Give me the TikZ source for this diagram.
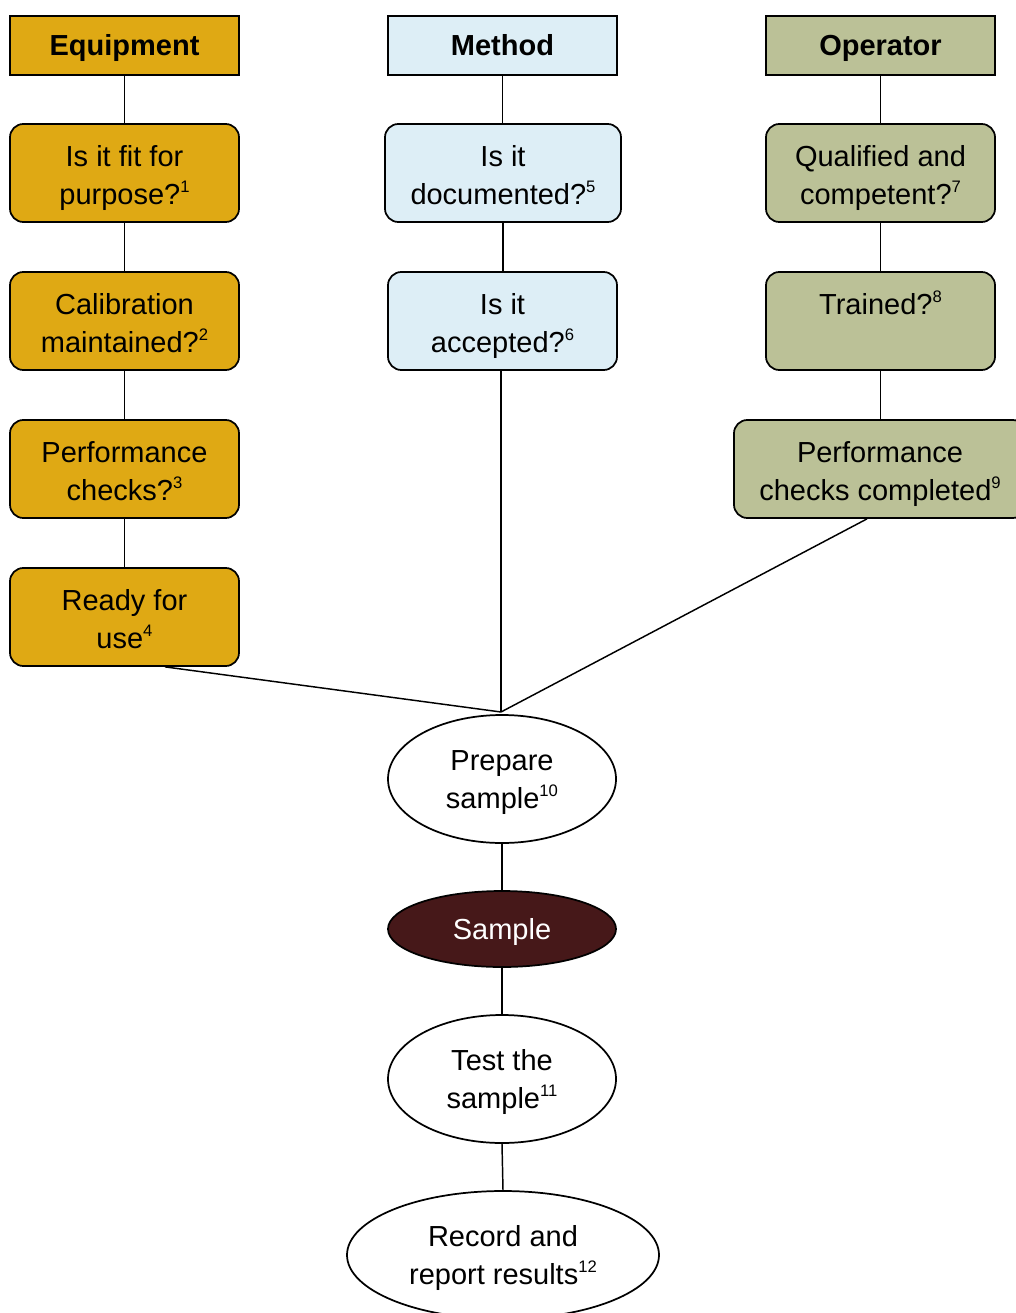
\documentclass[tikz,border=0pt]{standalone}
\usepackage{fontspec}
\setmainfont{Liberation Sans}
\usetikzlibrary{shapes.geometric,calc}
\definecolor{eqc}{HTML}{DFA914}
\definecolor{mec}{HTML}{DDEEF6}
\definecolor{opc}{HTML}{BBC197}
\definecolor{smc}{HTML}{461819}
\newcommand\lnA{\rule[-4.6pt]{0pt}{24.25pt}}
\newcommand\lnB{\rule[-4.6pt]{0pt}{28pt}}
\newcommand\supx[1]{\raisebox{9pt}{\fontsize{12.5}{12.5}\selectfont #1}}
\begin{document}
\begin{tikzpicture}[x=0.75pt,y=-0.75pt,
  txt/.style={font=\fontsize{21.75}{28.5}\selectfont, align=center, inner sep=0pt},
  hdr/.style={txt, draw, line width=1.3pt, minimum width=171.75pt, minimum height=44.25pt, font=\fontsize{21.75}{28.5}\selectfont\bfseries},
  rbox/.style={txt, draw, line width=1.3pt, rounded corners=10pt, minimum width=171.75pt, minimum height=73.5pt},
  oval/.style={txt, draw, ellipse, line width=1.3pt, minimum width=171pt, minimum height=96pt, fill=white},
  link/.style={line width=1.1pt}
]
\useasboundingbox (0,0) rectangle (1016,1313);
\clip (0,0) rectangle (1016,1313);
\fill[white] (0,0) rectangle (1016,1313);

% headers
\node[hdr, fill=eqc] (eqh) at (124.5,45.5) {\lnA Equipment};
\node[hdr, fill=mec] (meh) at (502.5,45.5) {\lnA Method};
\node[hdr, fill=opc] (oph) at (880.5,45.5) {\lnA Operator};

% equipment column
\node[rbox, fill=eqc] (eq1) at (124.5,173) {\lnB Is it fit for\\purpose?\supx{1}\lnA};
\node[rbox, fill=eqc] (eq2) at (124.5,321) {\lnB Calibration\\maintained?\supx{2}\lnA};
\node[rbox, fill=eqc] (eq3) at (124.5,469) {\lnB Performance\\checks?\supx{3}\lnA};
\node[rbox, fill=eqc] (eq4) at (124.5,617) {\lnB Ready for\\use\supx{4}\lnA};

% method column
\node[rbox, fill=mec, minimum width=177pt] (me1) at (503,173) {\lnB Is it\\documented?\supx{5}\lnA};
\node[rbox, fill=mec] (me2) at (502.5,321) {\lnB Is it\\accepted?\supx{6}\lnA};

% operator column
\node[rbox, fill=opc] (op1) at (880.5,173) {\lnB Qualified and\\competent?\supx{7}\lnA};
\node[rbox, fill=opc] (op2) at (880.5,321) {\lnB Trained?\supx{8}\\\lnA};
\node[rbox, fill=opc, minimum width=219pt] (op3) at (880,469) {\lnB Performance\\checks completed\supx{9}\lnA};

% process
\node[oval] (prep) at (502,779) {\lnA Prepare\\sample\supx{10}\lnA};
\node[oval, fill=smc, text=white, minimum height=57pt] (samp) at (502,929) {\lnA Sample};
\node[oval] (test) at (502,1079) {\lnA Test the\\sample\supx{11}\lnA};
\node[oval, minimum width=234pt] (rec) at (503,1255) {\lnA Record and\\report results\supx{12}\lnA};

\coordinate (m) at (501,712);

% connectors
\draw[link] (eqh.south) -- (eq1.north);
\draw[link] (eq1.south) -- (eq2.north);
\draw[link] (eq2.south) -- (eq3.north);
\draw[link] (eq3.south) -- (eq4.north);
\draw[link] (meh.south) -- (meh.south |- me1.north);
\draw[link] (me1.south) -- (me1.south |- me2.north);
\draw[link] (oph.south) -- (op1.north);
\draw[link] (op1.south) -- (op2.north);
\draw[link] (op2.south) -- (op2.south |- op3.north);
\draw[link] ($(me2.south)+(-1.5,0)$) -- (m);
\draw[link] ($(eq4.south)+(40.5,0)$) -- (m);
\draw[link] ($(op3.south)+(-13,0)$) -- (m);
\draw[link] (prep.south) -- (samp.north);
\draw[link] (samp.south) -- (test.north);
\draw[link] (test.south) -- (rec.north);
\end{tikzpicture}
\end{document}
